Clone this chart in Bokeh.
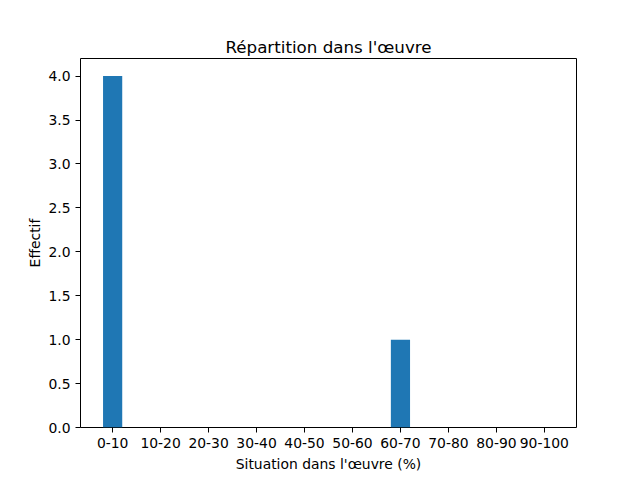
from bokeh.plotting import figure
from bokeh.models import FixedTicker, NumeralTickFormatter, Range1d, ColumnDataSource
from bokeh.embed import file_html
from bokeh.resources import INLINE

# Données
tranches = ["0-10", "10-20", "20-30", "30-40", "40-50",
            "50-60", "60-70", "70-80", "80-90", "90-100"]
effectifs = [4, 0, 0, 0, 0, 0, 1, 0, 0, 0]
positions = list(range(len(tranches)))

cds = ColumnDataSource(dict(x=positions, top=effectifs))

p = figure(width=640, height=480, output_backend="svg", toolbar_location=None,
           x_range=Range1d(-0.67, len(tranches) - 1 + 0.67),
           y_range=Range1d(0, 4.2),
           min_border_left=80, min_border_right=64,
           min_border_top=58, min_border_bottom=53)

p.vbar(x="x", top="top", width=0.4, source=cds, fill_color="#1f77b4", line_color=None)

# Titre
p.title.text = "Répartition dans l'œuvre"
p.title.text_font = "DejaVu Sans"
p.title.text_font_size = "16.7px"
p.title.text_font_style = "normal"
p.title.text_color = "black"
p.title.align = "center"
p.title.standoff = 4

# Axes
p.xaxis.ticker = FixedTicker(ticks=positions)
p.xaxis.major_label_overrides = {i: t for i, t in enumerate(tranches)}
p.yaxis.ticker = FixedTicker(ticks=[0, 0.5, 1, 1.5, 2, 2.5, 3, 3.5, 4])
p.yaxis.formatter = NumeralTickFormatter(format="0.0")

p.xaxis.axis_label = "Situation dans l'œuvre (%)"
p.yaxis.axis_label = "Effectif"

p.axis.axis_label_text_font = "DejaVu Sans"
p.axis.axis_label_text_font_size = "13.9px"
p.axis.axis_label_text_font_style = "normal"
p.axis.major_label_text_font = "DejaVu Sans"
p.axis.major_label_text_font_size = "13.9px"
p.axis.major_label_text_color = "black"
p.axis.axis_label_text_color = "black"
p.axis.major_tick_in = 0
p.axis.major_tick_out = 5
p.axis.minor_tick_line_color = None
p.axis.axis_line_color = None
p.axis.major_tick_line_color = "black"
p.xaxis.axis_label_standoff = 5
p.yaxis.axis_label_standoff = 2

p.outline_line_color = "black"
p.outline_line_width = 1
p.xgrid.grid_line_color = None
p.ygrid.grid_line_color = None

open("out.html", "w").write(file_html(p, INLINE))
